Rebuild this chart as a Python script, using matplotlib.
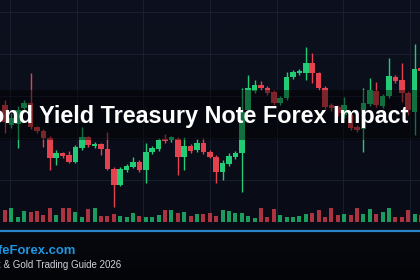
import numpy as np
import matplotlib
matplotlib.use("Agg")
from matplotlib import pyplot as plt
from matplotlib.patches import Rectangle

# daily candles
opens = [4.45, 4.25, 4.26, 4.42, 4.47, 4.23, 4.19, 4.12, 3.92, 3.97,
         3.95, 3.88, 4.02, 4.13, 4.04, 4.06, 4.01, 3.81, 3.65, 3.80,
         3.83, 3.88, 3.80, 3.98, 4.01, 4.11, 4.10, 4.11, 3.93, 4.04,
         4.00, 4.07, 3.98, 3.93, 3.78, 3.86, 3.93, 3.97, 4.40, 4.59,
         4.65, 4.62, 4.58, 4.47, 4.52, 4.73, 4.77, 4.77, 4.87, 4.77,
         4.62, 4.45, 4.43, 4.35, 4.35, 4.23, 4.21, 4.46, 4.59, 4.44,
         4.54, 4.73, 4.70, 4.57, 4.38, 4.82]
highs = [4.50, 4.37, 4.44, 4.50, 4.77, 4.24, 4.21, 4.14, 4.00, 3.98,
         3.99, 4.05, 4.23, 4.14, 4.08, 4.07, 4.18, 3.83, 3.83, 3.86,
         3.93, 3.90, 4.07, 4.04, 4.12, 4.16, 4.14, 4.13, 4.13, 4.06,
         4.11, 4.12, 4.00, 3.95, 3.90, 3.97, 3.99, 4.62, 4.75, 4.70,
         4.69, 4.64, 4.60, 4.54, 4.78, 4.80, 4.81, 5.03, 4.97, 4.78,
         4.64, 4.47, 4.45, 4.53, 4.37, 4.25, 4.62, 4.72, 4.68, 4.56,
         4.92, 4.75, 4.87, 4.59, 5.06, 4.84]
lows = [4.17, 4.22, 4.02, 4.40, 4.21, 4.17, 4.03, 3.80, 3.85, 3.92,
        3.87, 3.87, 4.00, 4.03, 4.02, 3.95, 3.80, 3.43, 3.64, 3.78,
        3.82, 3.78, 3.67, 3.96, 3.99, 4.07, 4.08, 3.75, 3.80, 3.97,
        3.98, 3.96, 3.92, 3.67, 3.70, 3.84, 3.91, 3.58, 4.38, 4.57,
        4.60, 4.55, 4.45, 4.45, 4.50, 4.71, 4.75, 4.70, 4.67, 4.60,
        4.41, 4.39, 4.34, 4.32, 4.20, 4.18, 3.98, 4.44, 4.43, 4.42,
        4.52, 4.67, 4.48, 4.35, 4.15, 4.77]
closes = [4.28, 4.32, 4.40, 4.47, 4.23, 4.19, 4.12, 3.92, 3.97, 3.94,
          3.88, 4.03, 4.13, 4.05, 4.06, 4.01, 3.81, 3.65, 3.81, 3.84,
          3.88, 3.80, 3.98, 4.02, 4.10, 4.09, 4.13, 3.93, 4.04, 3.99,
          4.07, 3.98, 3.93, 3.78, 3.87, 3.94, 3.97, 4.38, 4.62, 4.65,
          4.62, 4.57, 4.47, 4.52, 4.73, 4.78, 4.79, 4.87, 4.77, 4.62,
          4.43, 4.42, 4.37, 4.45, 4.22, 4.20, 4.47, 4.60, 4.45, 4.54,
          4.74, 4.69, 4.57, 4.40, 4.81, 4.79]
volumes = [1230, 1470, 570, 1130, 1000, 1130, 730, 1400, 730, 1470,
           1470, 1070, 570, 1330, 1470, 670, 670, 800, 670, 570,
           900, 670, 570, 500, 730, 1230, 1230, 900, 1070, 670,
           800, 800, 900, 670, 1230, 1170, 900, 900, 670, 470,
           1400, 530, 1330, 730, 500, 500, 670, 800, 900, 1200,
           570, 1400, 730, 830, 730, 1400, 800, 1300, 830, 1000,
           1400, 570, 570, 1230, 830, 730]

title = "Bond Yield Treasury Note Forex Impact"
brand = "SafeForex.com"
subtitle = "Forex & Gold Trading Guide 2026"

UP = "#22cc76"
DOWN = "#e4424f"
W, H = 420, 280
STEP = 6.4      # pixels per candle
X0 = 5          # pixel of first candle

fig = plt.figure(figsize=(W / 100, H / 100), dpi=100)

# background, grid
bg = fig.add_axes([0, 0, 1, 1])
bg.axis("off")
t = np.linspace(0, 1, 100)[:, None, None]
top = (1 - t) * np.array([13, 17, 31]) + t * np.array([9, 12, 22])
bot = (1 - t) * np.array([7, 9, 15]) + t * np.array([3, 4, 7])
bg.imshow(top / 255, extent=[0, W, 231, 0], aspect="auto", zorder=0)
bg.imshow(bot / 255, extent=[0, W, H, 231], aspect="auto", zorder=0)
gx = 10 + 66.67 * np.arange(7)
gy = [12, 54, 96, 138, 180]
bg.vlines(gx, 0, 222, color="#1c2232", lw=0.6, zorder=1)
bg.hlines(gy, 0, W, color="#1c2232", lw=0.6, zorder=1)
bg.set_xlim(0, W)
bg.set_ylim(H, 0)

idx = np.arange(len(opens))
up = np.array(closes) >= np.array(opens)
colors = [UP if u else DOWN for u in up]

# price candles
ax = fig.add_axes([0, 0, 1, 1])
ax.patch.set_visible(False)
ax.axis("off")
ax.vlines(idx, lows, highs, color=colors, lw=1.0)
bottoms = np.minimum(opens, closes)
heights = np.maximum(np.abs(np.array(closes) - np.array(opens)), 0.015)
ax.bar(idx, heights, bottom=bottoms, width=0.87, color=colors)
ax.set_xlim(-X0 / STEP, (W - X0) / STEP)
ax.set_ylim(5.5 - H / 100, 5.5)

# volume
vax = fig.add_axes([0, (H - 222.3) / H, 1, 20 / H])
vax.patch.set_visible(False)
vax.axis("off")
vax.bar(idx, volumes, width=0.62, color=colors, alpha=0.75)
vax.set_xlim(-X0 / STEP, (W - X0) / STEP)
vax.set_ylim(0, 2000)

# overlay: title band, texts, divider
ov = fig.add_axes([0, 0, 1, 1])
ov.patch.set_visible(False)
ov.axis("off")
ov.set_xlim(0, W)
ov.set_ylim(H, 0)
ov.add_patch(Rectangle((0, 90), W, 50, color="black", alpha=0.45, lw=0))
ov.hlines(231, 0, W, color="#2a85c6", lw=1.6)
ov.text(408, 123.5, title, ha="right", va="baseline", fontsize=16.8,
        fontweight="bold", color="white", family="Liberation Sans")
ov.text(76, 254.5, brand, ha="right", va="baseline", fontsize=9.4,
        fontweight="bold", color="#1f97e2", family="Liberation Sans")
ov.text(121, 268, subtitle, ha="right", va="baseline", fontsize=7,
        color="#cfd3da", family="Liberation Sans")

fig.savefig("out.png", dpi=100)
